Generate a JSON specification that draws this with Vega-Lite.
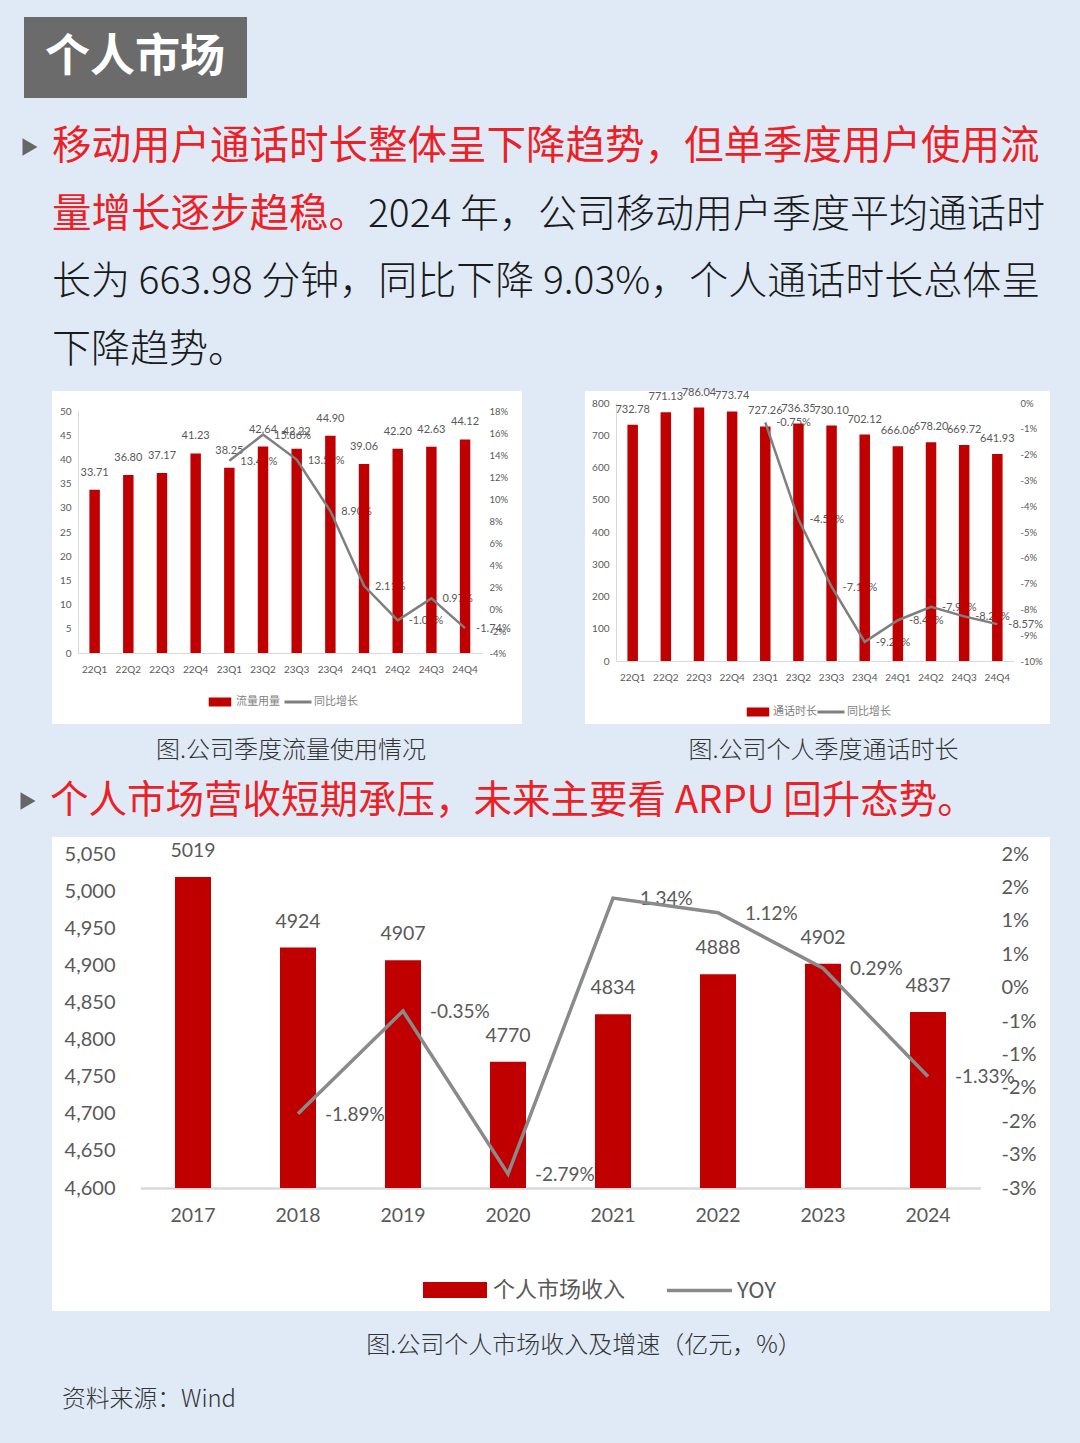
{
"$schema":"https://vega.github.io/schema/vega-lite/v6.json",
"background":"#dfeaf6",
"padding":{"top":17,"left":0,"right":0,"bottom":0},
"spacing":0,
"config":{"view":{"stroke":null},"font":"Noto Sans CJK SC","axis":{"grid":false,"title":null,"labelOverlap":false},
  "locale":{"number":{"decimal":".","thousands":",","grouping":[3],"currency":["$",""],"minus":"-"}}},
"resolve":{"scale":{"fill":"independent","stroke":"independent"},"legend":{"fill":"independent","stroke":"independent"}},
"datasets":{
"head":[
{"line":1,"seg":"r","text":"移动用户通话时长整体呈下降趋势，但单季度用户使用流"},
{"line":2,"seg":"r","text":"量增长逐步趋稳。"},
{"line":2,"seg":"br","text":"2024 年，公司移动用户季度平均通话时"},
{"line":3,"seg":"b","text":"长为 663.98 分钟，同比下降 9.03%，个人通话时长总体呈"},
{"line":4,"seg":"b","text":"下降趋势。"}
],
"mid":[
{"kind":"cap","col":1,"text":"图.公司季度流量使用情况"},
{"kind":"cap","col":2,"text":"图.公司个人季度通话时长"},
{"kind":"bul","col":1,"text":"个人市场营收短期承压，未来主要看 ARPU 回升态势。"}
],
"foot":[
{"kind":"cap","text":"图.公司个人市场收入及增速（亿元，%）"},
{"kind":"src","text":"资料来源：Wind"}
],
"flow":[
{"q":"22Q1","v":33.71,"yoy":null},
{"q":"22Q2","v":36.80,"yoy":null},
{"q":"22Q3","v":37.17,"yoy":null},
{"q":"22Q4","v":41.23,"yoy":null},
{"q":"23Q1","v":38.25,"yoy":0.1347},
{"q":"23Q2","v":42.64,"yoy":0.1586},
{"q":"23Q3","v":42.22,"yoy":0.1359},
{"q":"23Q4","v":44.90,"yoy":0.0890},
{"q":"24Q1","v":39.06,"yoy":0.0211},
{"q":"24Q2","v":42.20,"yoy":-0.0103},
{"q":"24Q3","v":42.63,"yoy":0.0097},
{"q":"24Q4","v":44.12,"yoy":-0.0174}
],
"call":[
{"q":"22Q1","v":732.78,"yoy":null},
{"q":"22Q2","v":771.13,"yoy":null},
{"q":"22Q3","v":786.04,"yoy":null},
{"q":"22Q4","v":773.74,"yoy":null},
{"q":"23Q1","v":727.26,"yoy":-0.0075},
{"q":"23Q2","v":736.35,"yoy":-0.0451},
{"q":"23Q3","v":730.10,"yoy":-0.0712},
{"q":"23Q4","v":702.12,"yoy":-0.0926},
{"q":"24Q1","v":666.06,"yoy":-0.0842},
{"q":"24Q2","v":678.20,"yoy":-0.0790},
{"q":"24Q3","v":669.72,"yoy":-0.0827},
{"q":"24Q4","v":641.93,"yoy":-0.0857}
],
"rev":[
{"year":"2017","v":5019,"yoy":null},
{"year":"2018","v":4924,"yoy":-0.0189},
{"year":"2019","v":4907,"yoy":-0.0035},
{"year":"2020","v":4770,"yoy":-0.0279},
{"year":"2021","v":4834,"yoy":0.0134},
{"year":"2022","v":4888,"yoy":0.0112},
{"year":"2023","v":4902,"yoy":0.0029},
{"year":"2024","v":4837,"yoy":-0.0133}
]
},
"vconcat":[
{"hconcat":[
 {"width":24,"height":81,"data":{"values":[]},"mark":"point"},
 {"width":223,"height":81,"view":{"fill":"#6b6b6b","stroke":null},"data":{"values":[{"t":"个人市场"}]},
  "mark":{"type":"text","font":"Noto Sans CJK SC","fontSize":45,"fontWeight":"bold","color":"#ffffff","align":"center","baseline":"middle"},
  "encoding":{"text":{"field":"t"},"x":{"value":111},"y":{"value":41}}}
],"spacing":0},
{"width":1080,"height":288,"data":{"name":"head"},
 "encoding":{"y":{"field":"line","type":"quantitative","scale":{"domain":[1,4],"range":[49,252]},"axis":null}},
 "layer":[
  {"transform":[{"filter":"datum.line == 1"}],"mark":{"type":"point","shape":"triangle-right","filled":true,"size":300,"color":"#666666","opacity":1},"encoding":{"x":{"value":30}}},
  {"transform":[{"filter":"datum.seg == 'r'"}],"mark":{"type":"text","align":"left","baseline":"middle","fontSize":39.5,"color":"#ea2227"},"encoding":{"x":{"value":52},"text":{"field":"text"}}},
  {"transform":[{"filter":"datum.seg == 'br'"}],"mark":{"type":"text","align":"right","baseline":"middle","fontSize":39,"fontWeight":300,"color":"#1a1a1a"},"encoding":{"x":{"value":1045},"text":{"field":"text"}}},
  {"transform":[{"filter":"datum.seg == 'b'"}],"mark":{"type":"text","align":"left","baseline":"middle","fontSize":39,"fontWeight":300,"color":"#1a1a1a"},"encoding":{"x":{"value":52},"text":{"field":"text"}}}
 ]},
{"hconcat":[
 {"width":52,"height":333,"data":{"values":[]},"mark":"point"},
 {"width":470,"height":333,"view":{"fill":"#ffffff","stroke":null},"data":{"name":"flow"},
  "encoding":{"x":{"field":"q","type":"nominal","sort":"ascending","scale":{"range":[25.8,429.9],"paddingInner":0.69,"paddingOuter":0.345},
    "axis":{"orient":"bottom","offset":-71,"domainColor":"#d9d9d9","domainWidth":1,"ticks":false,"labelPadding":11,"labelFont":"Lato","labelFontSize":10,"labelColor":"#595959","labelAngle":0}}},
  "layer":[
   {"transform":[{"filter":"datum.yoy != null"}],"mark":{"type":"text","align":"left","baseline":"middle","dx":11,"dy":1,"font":"Lato","fontSize":11,"color":"#595959"},
    "encoding":{"y":{"field":"yoy","type":"quantitative","scale":{"domain":[-0.04,0.18],"range":[262,20]},"axis":null},"text":{"field":"yoy","format":".2%"}}},
   {"mark":{"type":"bar"},
    "encoding":{"y":{"field":"v","type":"quantitative","scale":{"domain":[0,50],"range":[262,20]},"axis":{"orient":"left","offset":-26,"values":[0,5,10,15,20,25,30,35,40,45,50],"ticks":false,"domainColor":"#d9d9d9","domainWidth":1,"labelPadding":7,"labelFont":"Lato","labelFontSize":10,"labelColor":"#595959"}},
     "y2":{"datum":0},
     "fill":{"datum":"流量用量","type":"nominal","scale":{"range":["#c00000"]},"legend":{"orient":"none","legendX":159,"legendY":302,"title":null,"symbolType":"M-1.25,-0.5H1.25V0.5H-1.25Z","symbolSize":324,"symbolStrokeWidth":0,"labelFont":"Noto Sans CJK SC","labelFontSize":11,"labelColor":"#7f7f7f","labelOffset":7,"padding":0}}}},
   {"mark":{"type":"text","baseline":"middle","dy":-17,"font":"Lato","fontSize":11,"color":"#595959"},
    "encoding":{"y":{"field":"v","type":"quantitative","scale":{"domain":[0,50],"range":[262,20]},"axis":null},"text":{"field":"v","format":".2f"}}},
   {"transform":[{"filter":"datum.yoy != null"}],"mark":{"type":"line","strokeWidth":2.5},
    "encoding":{"y":{"field":"yoy","type":"quantitative","scale":{"domain":[-0.04,0.18],"range":[262,20]},"axis":{"orient":"right","offset":-33,"values":[-0.04,-0.02,0,0.02,0.04,0.06,0.08,0.1,0.12,0.14,0.16,0.18],"format":".0%","domain":false,"ticks":false,"labelPadding":0,"labelFont":"Lato","labelFontSize":9.5,"labelColor":"#595959"}},
     "stroke":{"datum":"同比增长","type":"nominal","scale":{"range":["#7f7f7f"]},"legend":{"orient":"none","legendX":231,"legendY":296,"title":null,"symbolType":"stroke","symbolSize":729,"symbolStrokeWidth":3,"labelFont":"Noto Sans CJK SC","labelFontSize":11,"labelColor":"#7f7f7f","labelOffset":1,"padding":0}}}}
  ],
  "resolve":{"scale":{"y":"independent"}}},
 {"width":63,"height":333,"data":{"values":[]},"mark":"point"},
 {"width":465,"height":333,"view":{"fill":"#ffffff","stroke":null},"data":{"name":"call"},
  "encoding":{"x":{"field":"q","type":"nominal","sort":"ascending","scale":{"range":[31.1,428.9],"paddingInner":0.683,"paddingOuter":0.3415},
    "axis":{"orient":"bottom","offset":-63,"domainColor":"#d9d9d9","domainWidth":1,"ticks":false,"labelPadding":11,"labelFont":"Lato","labelFontSize":10,"labelColor":"#595959","labelAngle":0}}},
  "layer":[
   {"transform":[{"filter":"datum.yoy != null"}],"mark":{"type":"text","align":"left","baseline":"middle","dx":11,"dy":1,"font":"Lato","fontSize":11,"color":"#595959"},
    "encoding":{"y":{"field":"yoy","type":"quantitative","scale":{"domain":[-0.1,0],"range":[270,12]},"axis":null},"text":{"field":"yoy","format":".2%"}}},
   {"mark":{"type":"bar"},
    "encoding":{"y":{"field":"v","type":"quantitative","scale":{"domain":[0,800],"range":[270,12]},"axis":{"orient":"left","offset":-31,"values":[0,100,200,300,400,500,600,700,800],"ticks":false,"domainColor":"#d9d9d9","domainWidth":1,"labelPadding":7,"labelFont":"Lato","labelFontSize":10,"labelColor":"#595959"}},
     "y2":{"datum":0},
     "fill":{"datum":"通话时长","type":"nominal","scale":{"range":["#c00000"]},"legend":{"orient":"none","legendX":164,"legendY":312,"title":null,"symbolType":"M-1.25,-0.5H1.25V0.5H-1.25Z","symbolSize":324,"symbolStrokeWidth":0,"labelFont":"Noto Sans CJK SC","labelFontSize":11,"labelColor":"#7f7f7f","labelOffset":6,"padding":0}}}},
   {"mark":{"type":"text","baseline":"middle","dy":-15,"font":"Lato","fontSize":11,"color":"#595959"},
    "encoding":{"y":{"field":"v","type":"quantitative","scale":{"domain":[0,800],"range":[270,12]},"axis":null},"text":{"field":"v","format":".2f"}}},
   {"transform":[{"filter":"datum.yoy != null"}],"mark":{"type":"line","strokeWidth":2.5},
    "encoding":{"y":{"field":"yoy","type":"quantitative","scale":{"domain":[-0.1,0],"range":[270,12]},"axis":{"orient":"right","offset":-30,"values":[-0.1,-0.09,-0.08,-0.07,-0.06,-0.05,-0.04,-0.03,-0.02,-0.01,0],"format":".0%","domain":false,"ticks":false,"labelPadding":0,"labelFont":"Lato","labelFontSize":9.5,"labelColor":"#595959"}},
     "stroke":{"datum":"同比增长","type":"nominal","scale":{"range":["#7f7f7f"]},"legend":{"orient":"none","legendX":231,"legendY":306,"title":null,"symbolType":"stroke","symbolSize":729,"symbolStrokeWidth":3,"labelFont":"Noto Sans CJK SC","labelFontSize":11,"labelColor":"#7f7f7f","labelOffset":1,"padding":0}}}}
  ],
  "resolve":{"scale":{"y":"independent"}}}
],"spacing":0,"resolve":{"scale":{"fill":"independent","stroke":"independent"},"legend":{"fill":"independent","stroke":"independent"}}},
{"width":1080,"height":113,"data":{"name":"mid"},
 "layer":[
  {"transform":[{"filter":"datum.kind == 'cap'"}],"mark":{"type":"text","align":"center","baseline":"middle","fontSize":24,"fontWeight":300,"color":"#333333"},
   "encoding":{"x":{"field":"col","type":"quantitative","scale":{"domain":[1,2],"range":[291,823.5]},"axis":null},"y":{"value":27},"text":{"field":"text"}}},
  {"transform":[{"filter":"datum.kind == 'bul'"}],"mark":{"type":"point","shape":"triangle-right","filled":true,"size":300,"color":"#666666","opacity":1},"encoding":{"x":{"value":28},"y":{"value":77}}},
  {"transform":[{"filter":"datum.kind == 'bul'"}],"mark":{"type":"text","align":"left","baseline":"middle","fontSize":38.5,"color":"#ea2227"},"encoding":{"x":{"value":50},"y":{"value":77},"text":{"field":"text"}}}
 ]},
{"hconcat":[
 {"width":52,"height":474,"data":{"values":[]},"mark":"point"},
 {"width":998,"height":474,"view":{"fill":"#ffffff","stroke":null},"data":{"name":"rev"},
  "encoding":{"x":{"field":"year","type":"nominal","sort":"ascending","scale":{"range":[88.5,928.5],"paddingInner":0.657,"paddingOuter":0.3285},
    "axis":{"orient":"bottom","offset":-123,"domainColor":"#d9d9d9","domainWidth":2.5,"ticks":false,"labelPadding":18,"labelFont":"Lato","labelFontSize":19.5,"labelColor":"#595959","labelAngle":0}}},
  "layer":[
   {"transform":[{"filter":"datum.yoy != null"}],"mark":{"type":"text","align":"left","baseline":"middle","dx":27,"dy":1,"font":"Lato","fontSize":19,"color":"#595959"},
    "encoding":{"y":{"field":"yoy","type":"quantitative","scale":{"domain":[-0.03,0.02],"range":[351,17]},"axis":null},"text":{"field":"yoy","format":".2%"}}},
   {"mark":{"type":"bar"},
    "encoding":{"y":{"field":"v","type":"quantitative","scale":{"domain":[4600,5050],"range":[351,17]},"axis":{"orient":"left","offset":-63,"values":[4600,4650,4700,4750,4800,4850,4900,4950,5000,5050],"format":",.0f","ticks":false,"domain":false,"labelPadding":0,"labelFont":"Lato","labelFontSize":20,"labelColor":"#595959"}},
     "y2":{"datum":4600},
     "fill":{"datum":"个人市场收入","type":"nominal","scale":{"range":["#c00000"]},"legend":{"orient":"none","legendX":387,"legendY":437,"title":null,"symbolType":"M-2,-0.5H2V0.5H-2Z","symbolSize":1024,"symbolStrokeWidth":0,"labelFont":"Noto Sans CJK SC","labelFontSize":22,"labelColor":"#595959","labelOffset":22,"padding":0}}}},
   {"mark":{"type":"text","baseline":"middle","dy":-26,"font":"Lato","fontSize":19.5,"color":"#595959"},
    "encoding":{"y":{"field":"v","type":"quantitative","scale":{"domain":[4600,5050],"range":[351,17]},"axis":null},"text":{"field":"v","format":"d"}}},
   {"transform":[{"filter":"datum.yoy != null"}],"mark":{"type":"line","strokeWidth":3.5},
    "encoding":{"y":{"field":"yoy","type":"quantitative","scale":{"domain":[-0.03,0.02],"range":[351,17]},"axis":{"orient":"right","offset":-49,"values":[-0.03,-0.025,-0.02,-0.015,-0.01,-0.005,0,0.005,0.01,0.015,0.02],"labelExpr":"(datum.value < -0.000001 ? '-' : '') + round(abs(datum.value) * 100 + 0.000001) + '%'","domain":false,"ticks":false,"labelPadding":0,"labelFont":"Lato","labelFontSize":20,"labelColor":"#595959"}},
     "stroke":{"datum":"YOY","type":"nominal","scale":{"range":["#8a8a8a"]},"legend":{"orient":"none","legendX":613,"legendY":419,"title":null,"symbolType":"stroke","symbolSize":4225,"symbolStrokeWidth":3.5,"labelFont":"Noto Sans CJK SC","labelFontSize":22,"labelColor":"#595959","labelOffset":3,"padding":0}}}}
  ],
  "resolve":{"scale":{"y":"independent"}}}
],"spacing":0,"resolve":{"scale":{"fill":"independent","stroke":"independent"},"legend":{"fill":"independent","stroke":"independent"}}},
{"width":1080,"height":133,"data":{"name":"foot"},
 "layer":[
  {"transform":[{"filter":"datum.kind == 'cap'"}],"mark":{"type":"text","align":"center","baseline":"middle","fontSize":24,"fontWeight":300,"color":"#333333"},"encoding":{"x":{"value":584},"y":{"value":35},"text":{"field":"text"}}},
  {"transform":[{"filter":"datum.kind == 'src'"}],"mark":{"type":"text","align":"left","baseline":"middle","fontSize":23.8,"fontWeight":300,"color":"#333333"},"encoding":{"x":{"value":62},"y":{"value":89},"text":{"field":"text"}}}
 ]}
]
}
